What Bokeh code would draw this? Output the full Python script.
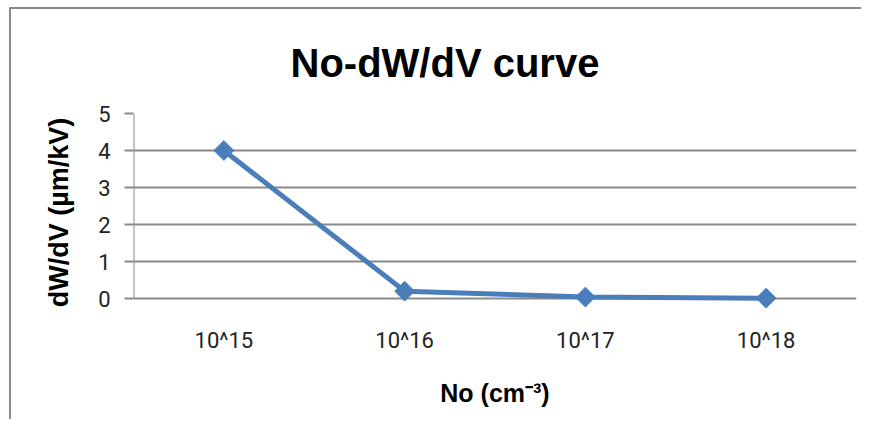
import math
from bokeh.plotting import figure
from bokeh.models import FactorRange, Range1d, FixedTicker
from bokeh.embed import file_html
from bokeh.resources import INLINE

categories = ["10^15", "10^16", "10^17", "10^18"]
dwdv = [4.0, 0.2, 0.04, 0.01]
y_ticks = [0, 1, 2, 3, 4, 5]
title_text = "No-dW/dV curve"
x_label = "No (cm\u207b\u00b3)"
y_label = "dW/dV (\u00b5m/kV)"

BOLDF = "Liberation Sans"
GRID = "#8a8a8a"
BLUE = "#4a7ebb"

p = figure(width=852, height=412,
           x_range=FactorRange(*categories),
           y_range=Range1d(-0.35, 5),
           output_backend="svg", toolbar_location=None,
           min_border_left=122, min_border_right=7,
           min_border_top=104, min_border_bottom=110,
           styles={"border-left": "2px solid #8a8a8a", "border-top": "2px solid #8a8a8a",
                   "margin-left": "9px", "margin-top": "7px"})

p.title.text = title_text
p.title.align = "left"
p.title.offset = 157
p.title.text_font = BOLDF
p.title.text_font_style = "bold"
p.title.text_font_size = "40px"
p.title.text_color = "black"
p.title.standoff = 58

p.outline_line_color = None
p.xgrid.grid_line_color = None
p.ygrid.ticker = FixedTicker(ticks=y_ticks)
p.ygrid.grid_line_color = GRID
p.ygrid.grid_line_width = 2

# y axis
p.yaxis.ticker = FixedTicker(ticks=y_ticks)
p.yaxis.axis_line_color = None
p.yaxis.major_tick_out = 9
p.yaxis.major_tick_in = 0
p.yaxis.major_tick_line_color = GRID
p.yaxis.major_tick_line_width = 2
p.yaxis.minor_tick_line_color = None
p.yaxis.major_label_text_font = "Roboto"
p.yaxis.major_label_text_font_size = "22px"
p.yaxis.major_label_text_color = "#222222"
p.yaxis.major_label_standoff = 14
p.yaxis.axis_label = y_label
p.yaxis.axis_label_text_font = BOLDF
p.yaxis.axis_label_text_font_style = "bold"
p.yaxis.axis_label_text_font_size = "27px"
p.yaxis.axis_label_text_color = "black"
p.yaxis.axis_label_standoff = 21

# x axis
p.xaxis.axis_line_color = None
p.xaxis.major_tick_line_color = None
p.xaxis.major_tick_out = 0
p.xaxis.major_tick_in = 0
p.xaxis.major_label_text_font = "Roboto"
p.xaxis.major_label_text_font_size = "22px"
p.xaxis.major_label_text_color = "#222222"
p.xaxis.major_label_standoff = 16
p.xaxis.axis_label = x_label
p.xaxis.axis_label_text_font = BOLDF
p.xaxis.axis_label_text_font_style = "bold"
p.xaxis.axis_label_text_font_size = "25px"
p.xaxis.axis_label_text_color = "black"
p.xaxis.axis_label_standoff = 23

# vertical axis line from 0 to top tick
p.segment(x0=[0], y0=[y_ticks[0]], x1=[0], y1=[y_ticks[-1]], line_color=GRID, line_width=2)

p.line(x=categories, y=dwdv, line_color=BLUE, line_width=5)
p.scatter(x=categories, y=dwdv, marker="square", angle=math.pi / 4, size=14,
          fill_color=BLUE, line_color=BLUE)

open("out.html", "w").write(file_html(p, INLINE))
